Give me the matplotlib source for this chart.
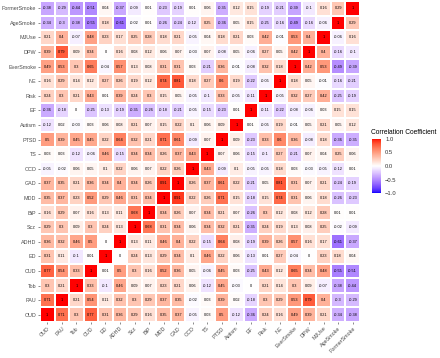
import numpy as np
import matplotlib
matplotlib.use("Agg")
import matplotlib.pyplot as plt
from matplotlib.colors import ListedColormap

variables = ["OUD", "PAU", "Tob", "CUD", "ED", "ADHD", "Scz", "BiP", "MDD", "GAD",
             "OCD", "TS", "PTSD", "Autism", "EF", "Risk", "NE", "EverSmoke", "DPW",
             "MJUse", "AgeSmoke", "FormerSmoke"]

# lower triangle: correlation of each variable with the preceding ones
lower = {
    "OUD": [],
    "PAU": [0.71],
    "Tob": [0.3, 0.21],
    "CUD": [0.77, 0.54, 0.33],
    "ED": [0.31, 0.11, -0.1, 0.01],
    "ADHD": [0.36, 0.32, 0.46, 0.5, 0],
    "Scz": [0.29, 0.3, 0.09, 0.3, 0.24, 0.13],
    "BiP": [0.16, 0.29, 0.07, 0.16, 0.13, 0.11, 0.68],
    "MDD": [0.35, 0.37, 0.23, 0.52, 0.29, 0.46, 0.31, 0.34],
    "GAD": [0.37, 0.35, 0.21, 0.36, 0.34, 0.4, 0.34, 0.26, 0.91],
    "OCD": [-0.05, -0.02, 0.06, 0.05, 0.1, 0.22, 0.06, 0.07, 0.22, 0.26],
    "TS": [0.03, 0.03, -0.12, -0.06, 0.46, -0.15, 0.34, 0.34, 0.26, 0.37, 0.43],
    "PTSD": [0.5, 0.39, 0.45, 0.45, 0.22, 0.64, 0.32, 0.21, 0.71, 0.61, -0.09, 0.07],
    "Autism": [-0.12, 0.02, -0.03, 0.03, 0.06, 0.08, 0.21, 0.07, 0.15, 0.22, 0.1, 0.06, 0.09],
    "EF": [-0.36, -0.18, 0, -0.25, -0.13, -0.19, -0.35, -0.26, -0.18, -0.21, -0.05, -0.15, -0.23, 0.01],
    "Risk": [0.24, 0.3, 0.21, 0.43, 0.01, 0.39, 0.24, 0.3, 0.15, 0.05, -0.05, -0.1, 0.33, -0.05, -0.11],
    "NE": [0.16, 0.29, 0.14, 0.12, 0.27, 0.26, 0.19, 0.12, 0.74, 0.81, 0.18, 0.27, 0.6, 0.19, -0.22, -0.05],
    "EverSmoke": [0.49, 0.53, 0.3, 0.65, -0.04, 0.57, 0.13, 0.08, 0.31, 0.31, 0.03, -0.21, 0.36, -0.01,
                  -0.08, 0.32, 0.18],
    "DPW": [0.39, 0.79, 0.09, 0.34, 0, 0.16, 0.08, 0.12, 0.06, 0.07, -0.03, 0.07, -0.08, 0.05, -0.06,
            0.27, 0.05, 0.42],
    "MJUse": [0.21, 0.4, -0.07, 0.48, 0.23, 0.17, 0.25, 0.28, 0.18, 0.21, -0.05, 0.04, 0.18, 0.21, 0.03,
              0.42, -0.01, 0.53, 0.4],
    "AgeSmoke": [-0.34, -0.3, -0.38, -0.55, 0.18, -0.61, -0.02, 0.01, -0.26, -0.24, -0.12, 0.25, -0.36,
                 0.05, 0.15, -0.25, -0.16, -0.49, -0.16, -0.06],
    "FormerSmoke": [-0.38, -0.29, -0.44, -0.51, 0.04, -0.37, -0.09, 0.01, -0.23, -0.19, 0.01, 0.06, -0.35,
                    0.12, 0.15, -0.19, -0.21, -0.39, -0.1, 0.16, 0.29],
}

n = len(variables)
M = np.eye(n)
for i, v in enumerate(variables):
    for j, val in enumerate(lower[v]):
        M[i, j] = val
        M[j, i] = val

# ---- ggplot-like gradient2 (Lab interpolation) ----
def srgb_to_lin(c):
    c = np.asarray(c, float)
    return np.where(c <= 0.04045, c / 12.92, ((c + 0.055) / 1.055) ** 2.4)

def lin_to_srgb(c):
    c = np.clip(c, 0, 1)
    return np.where(c <= 0.0031308, 12.92 * c, 1.055 * c ** (1 / 2.4) - 0.055)

Mx = np.array([[0.4124, 0.3576, 0.1805], [0.2126, 0.7152, 0.0722], [0.0193, 0.1192, 0.9505]])
Wn = np.array([0.95047, 1.0, 1.08883])

def rgb_to_lab(rgb):
    xyz = Mx @ srgb_to_lin(rgb) / Wn
    f = np.where(xyz > 0.008856, np.cbrt(xyz), 7.787 * xyz + 16 / 116)
    return np.array([116 * f[1] - 16, 500 * (f[0] - f[1]), 200 * (f[1] - f[2])])

def lab_to_rgb(lab):
    L, a, b = lab
    fy = (L + 16) / 116
    fx = fy + a / 500
    fz = fy - b / 200
    f = np.array([fx, fy, fz])
    xyz = np.where(f ** 3 > 0.008856, f ** 3, (f - 16 / 116) / 7.787) * Wn
    return lin_to_srgb(np.linalg.inv(Mx) @ xyz)

lab_blue = rgb_to_lab([0, 0, 1])
lab_white = rgb_to_lab([1, 1, 1])
lab_red = rgb_to_lab([1, 0, 0])
cols = []
for t in np.linspace(-1, 1, 256):
    if t < 0:
        lab = lab_white + (lab_blue - lab_white) * (-t)
    else:
        lab = lab_white + (lab_red - lab_white) * t
    cols.append(lab_to_rgb(lab))
cmap = ListedColormap(np.clip(np.array(cols), 0, 1))

# ---- plot ----
fig = plt.figure(figsize=(4.4, 3.58), dpi=100)
ax = fig.add_axes([40 / 440, 36 / 358, 320 / 440, 321 / 358])
mesh = ax.pcolormesh(np.arange(n + 1), np.arange(n + 1), M, cmap=cmap, vmin=-1, vmax=1,
                     edgecolors="white", linewidth=0.3)
ax.set_xlim(0, n)
ax.set_ylim(0, n)

def fmt(v):
    v = round(float(v), 2)
    if v == 0:
        return "0"
    return f"{v:g}"

for i in range(n):
    for j in range(n):
        ax.text(j + 0.5, i + 0.5, fmt(M[i, j]), ha="center", va="center",
                fontsize=2.8, color="black", family="Liberation Sans")

ax.set_xticks(np.arange(n) + 0.5)
ax.set_yticks(np.arange(n) + 0.5)
ax.set_xticklabels(variables, rotation=45, ha="right", va="top", rotation_mode="anchor",
                   fontsize=3.9, color="#4D4D4D", family="Liberation Sans")
ax.set_yticklabels(variables, fontsize=3.9, color="#4D4D4D", family="Liberation Sans")
ax.tick_params(length=1.5, width=0.4, color="#333333", pad=1.2)
for s in ax.spines.values():
    s.set_visible(False)

# colorbar / legend
cax = fig.add_axes([372 / 440, (358 - 193) / 358, 9 / 440, 54 / 358])
cb = fig.colorbar(mesh, cax=cax, ticks=[-1, -0.5, 0, 0.5, 1])
cb.outline.set_visible(False)
cb.ax.set_yticklabels(["\u22121.0", "\u22120.5", "0.0", "0.5", "1.0"], fontsize=4.2,
                      color="#333333", family="Liberation Sans")
cb.ax.tick_params(length=1.5, width=0.4, color="white", pad=1.5)
fig.text(371 / 440, (358 - 132) / 358, "Correlation Coefficient", fontsize=4.8,
         family="Liberation Sans", ha="left", va="center")

fig.savefig("out.png", dpi=100)
